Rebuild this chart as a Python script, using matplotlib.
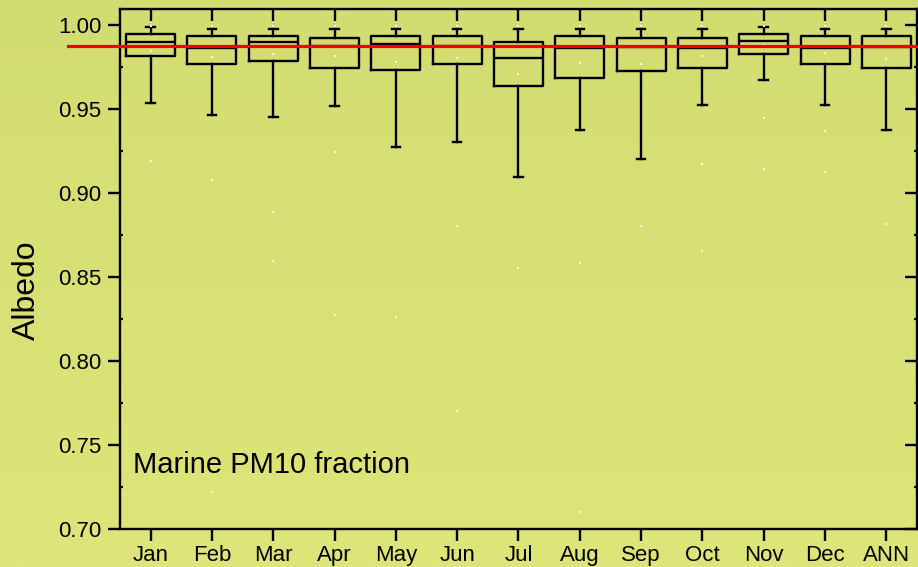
import numpy as np
import matplotlib
matplotlib.use("Agg")
from matplotlib import pyplot as plt
from matplotlib import transforms

plt.rcParams['font.family'] = ['Liberation Sans', 'DejaVu Sans']

# données
mois = ['Jan', 'Feb', 'Mar', 'Apr', 'May', 'Jun', 'Jul', 'Aug', 'Sep', 'Oct', 'Nov', 'Dec', 'ANN']
moustache_haut = [0.9986, 0.9976, 0.9976, 0.9976, 0.9976, 0.9976, 0.9976, 0.9976, 0.9976, 0.9976, 0.9986, 0.9976, 0.9976]
q3 = [0.9946, 0.9936, 0.9936, 0.9924, 0.9936, 0.9936, 0.9897, 0.9936, 0.9924, 0.9924, 0.9946, 0.9936, 0.9936]
mediane = [0.9897, 0.9861, 0.9897, 0.9873, 0.9887, 0.9873, 0.9805, 0.9863, 0.9870, 0.9861, 0.9905, 0.9861, 0.9867]
q1 = [0.9817, 0.9765, 0.9785, 0.9745, 0.9733, 0.9765, 0.9634, 0.9686, 0.9726, 0.9745, 0.9827, 0.9765, 0.9745]
moustache_bas = [0.9535, 0.9465, 0.9453, 0.9515, 0.9274, 0.9304, 0.9095, 0.9375, 0.9205, 0.9524, 0.9674, 0.9524, 0.9375]

moyenne = [0.9845, 0.9811, 0.9829, 0.9813, 0.9781, 0.9801, 0.9708, 0.9775, 0.9767, 0.9815, 0.9880, 0.9831, 0.9796]
point_max = [0.9996] * 13
point_bas1 = [0.919, 0.9075, 0.8884, 0.9244, 0.8264, 0.8805, 0.8554, 0.8584, 0.8805, 0.9175, 0.9445, 0.9366, 0.8813]
point_bas2 = [np.nan, 0.7222, 0.8594, 0.8274, np.nan, 0.7701, np.nan, 0.7102, np.nan, 0.8653, 0.9145, 0.9125, np.nan]

reference = 0.9873
etiquette = 'Marine PM10 fraction'

W, H = 918, 567
fig = plt.figure(figsize=(W / 100, H / 100), dpi=100)

# fond en dégradé
fond = fig.add_axes([0, 0, 1, 1], zorder=-10)
haut = np.array([210, 221, 113]) / 255
bas = np.array([222, 229, 121]) / 255
t = np.linspace(0, 1, 256)[:, None, None]
grad = haut * (1 - t) + bas * t
fond.imshow(np.repeat(grad, 2, axis=1), aspect='auto', extent=[0, 1, 0, 1])
fond.axis('off')

ax = fig.add_axes([120 / W, 1 - 529 / H, 797 / W, 520 / H])
ax.patch.set_alpha(0)

positions = np.arange(1, len(mois) + 1)
stats = []
for i in range(len(mois)):
    stats.append(dict(whislo=moustache_bas[i], q1=q1[i], med=mediane[i], q3=q3[i],
                      whishi=moustache_haut[i], fliers=[]))

lw = 1.7
ax.bxp(stats, positions=positions, widths=0.8, capwidths=0.14, showfliers=False,
       boxprops=dict(color='black', linewidth=lw),
       whiskerprops=dict(color='black', linewidth=lw),
       capprops=dict(color='black', linewidth=lw),
       medianprops=dict(color='black', linewidth=lw),
       manage_ticks=False)

for serie in [moyenne, point_max, point_bas1, point_bas2]:
    ax.plot(positions, serie, 's', ms=1.6, mew=0, color='#f6f6e4', zorder=5)

# ligne rouge qui déborde à gauche
trans = transforms.blended_transform_factory(ax.transAxes, ax.transData)
ax.plot([-0.065, 1.0], [reference, reference], color='#f20000', linewidth=2.3,
        transform=trans, clip_on=False, zorder=6)

ax.text(0.712, 0.7331, etiquette, fontsize=21, ha='left', va='baseline')

ax.set_xlim(0.5, 13.5)
ax.set_ylim(0.70, 1.0095)
ax.set_xticks(positions)
ax.set_xticklabels(mois)
ax.set_yticks(np.arange(0.70, 1.001, 0.05))
ax.set_yticks(np.arange(0.725, 1.0, 0.05), minor=True)
ax.yaxis.set_major_formatter(matplotlib.ticker.FormatStrFormatter('%.2f'))

for s in ax.spines.values():
    s.set_linewidth(1.7)

ax.tick_params(axis='both', which='major', direction='out', length=8.5, width=1.7,
               labelsize=16, colors='black')
ax.tick_params(axis='x', pad=3)
ax.tick_params(axis='y', pad=5)
ax.tick_params(axis='y', which='minor', direction='in', length=2.5, width=1.6)

# ticks intérieurs en haut et à droite
dessus = ax.secondary_xaxis('top')
dessus.set_xticks(positions)
dessus.tick_params(direction='in', length=8.5, width=1.7, labeltop=False)
droite = ax.secondary_yaxis('right')
droite.set_yticks(np.arange(0.70, 1.001, 0.05))
droite.set_yticks(np.arange(0.725, 1.0, 0.05), minor=True)
droite.tick_params(direction='in', length=8.5, width=1.7, labelright=False)
droite.tick_params(which='minor', direction='in', length=2.5, width=1.6)

ax.set_ylabel('Albedo', fontsize=23)
ax.yaxis.set_label_coords(-0.098, 0.46)

fig.savefig('out.png', dpi=100)
